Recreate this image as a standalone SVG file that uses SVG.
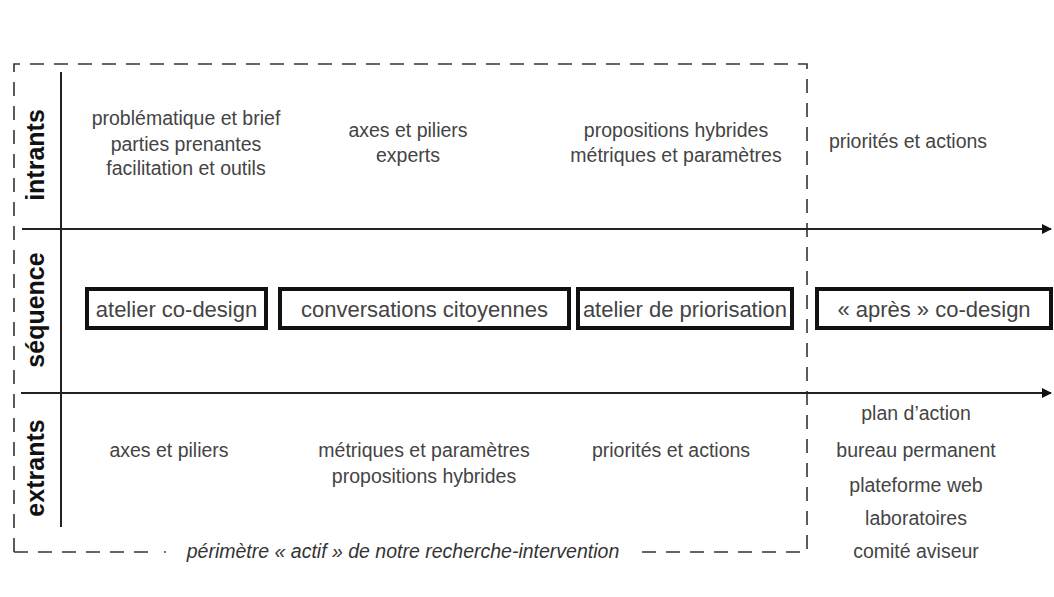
<svg xmlns="http://www.w3.org/2000/svg" width="1054" height="597" viewBox="0 0 1054 597">
<style>
.t{font-family:"Liberation Sans",Arial,sans-serif;font-size:19.5px;fill:#444;text-anchor:middle}
.bt{font-family:"Liberation Sans",Arial,sans-serif;font-size:22px;fill:#444;text-anchor:middle}
.lab{font-family:"Liberation Sans",Arial,sans-serif;font-size:25px;font-weight:bold;fill:#111;text-anchor:middle}
.it{font-family:"Liberation Sans",Arial,sans-serif;font-size:19.5px;font-style:italic;fill:#333;text-anchor:middle}
.box{fill:#fff;stroke:#111;stroke-width:4}
.ax{stroke:#222;stroke-width:2;fill:none}
.dash{stroke:#333;stroke-width:1.6;fill:none;stroke-dasharray:14 10}
</style>
<defs>
<marker id="ah" viewBox="0 0 10 10" refX="9" refY="5" markerWidth="5.5" markerHeight="5" orient="auto" markerUnits="strokeWidth"><path d="M0,0 L10,5 L0,10 z" fill="#111"/></marker>
</defs>
<g id="connectors">
<path class="dash" d="M14,552 L14,64 L807,64 L807,552 L635,552"/>
<path class="dash" d="M14,552 L150,552"/>
<circle cx="165" cy="552" r="0.9" fill="#333"/>
<line class="ax" x1="61" y1="72" x2="61" y2="527" stroke-width="1.6"/>
<line class="ax" x1="22" y1="229" x2="1051" y2="229" marker-end="url(#ah)"/>
<line class="ax" x1="21" y1="393" x2="1051" y2="393" marker-end="url(#ah)"/>
</g>
<g id="row-intrants"><text class="lab" transform="translate(44,155) rotate(-90)">intrants</text></g>
<g id="row-sequence"><text class="lab" transform="translate(44,310) rotate(-90)">séquence</text></g>
<g id="row-extrants"><text class="lab" transform="translate(44,468) rotate(-90)">extrants</text></g>
<g id="in1"><text class="t" x="186" y="125">problématique et brief</text><text class="t" x="186" y="151">parties prenantes</text><text class="t" x="186" y="175">facilitation et outils</text></g>
<g id="in2"><text class="t" x="408" y="137">axes et piliers</text><text class="t" x="408" y="162">experts</text></g>
<g id="in3"><text class="t" x="676" y="137">propositions hybrides</text><text class="t" x="676" y="162">métriques et paramètres</text></g>
<g id="in4"><text class="t" x="908" y="148">priorités et actions</text></g>
<g id="s1"><rect class="box" x="87" y="289" width="179" height="39"/><text class="bt" x="176.5" y="317">atelier co-design</text></g>
<g id="s2"><rect class="box" x="280" y="289" width="289" height="39"/><text class="bt" x="424.5" y="317">conversations citoyennes</text></g>
<g id="s3"><rect class="box" x="578" y="289" width="214" height="39"/><text class="bt" x="685" y="317">atelier de priorisation</text></g>
<g id="s4"><rect class="box" x="817" y="289" width="234" height="39"/><text class="bt" x="934" y="317">« après » co-design</text></g>
<g id="out1"><text class="t" x="169" y="457">axes et piliers</text></g>
<g id="out2"><text class="t" x="424" y="457">métriques et paramètres</text><text class="t" x="424" y="483">propositions hybrides</text></g>
<g id="out3"><text class="t" x="671" y="457">priorités et actions</text></g>
<g id="out4"><text class="t" x="916" y="420">plan d’action</text><text class="t" x="916" y="457">bureau permanent</text><text class="t" x="916" y="492">plateforme web</text><text class="t" x="916" y="525">laboratoires</text><text class="t" x="916" y="558">comité aviseur</text></g>
<g id="perimeter-label"><text class="it" x="403" y="558">périmètre « actif » de notre recherche-intervention</text></g>
</svg>
